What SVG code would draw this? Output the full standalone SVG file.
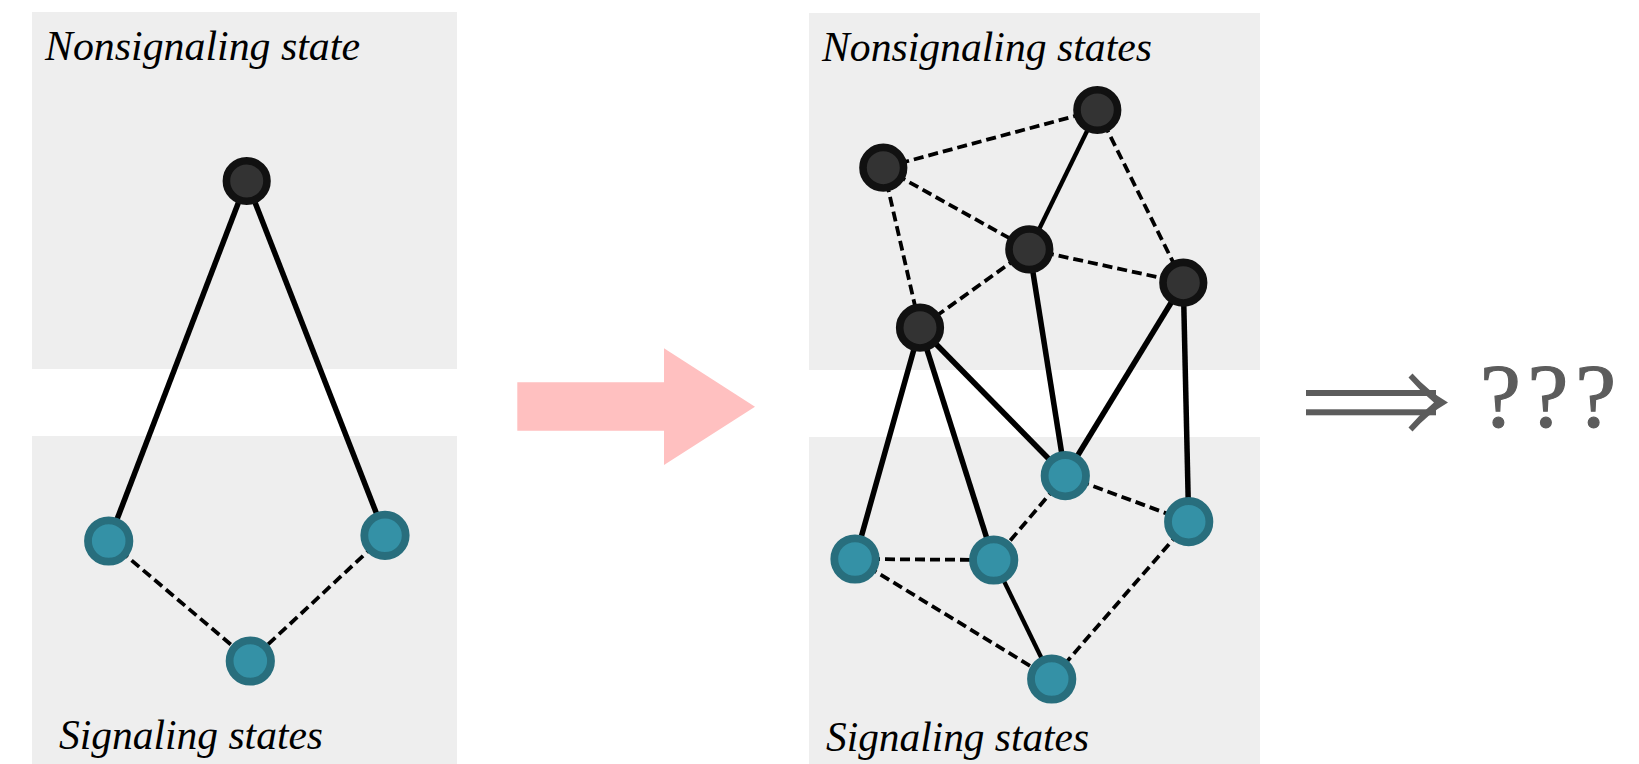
<svg xmlns="http://www.w3.org/2000/svg" width="1639" height="764" viewBox="0 0 1639 764">
<style>
.panel{fill:#eeeeee}
.lbl{font-family:"Liberation Serif",serif;font-style:italic;font-size:42px;fill:#000}
.solid{stroke:#000;stroke-width:5.5;fill:none}
.thin{stroke:#000;stroke-width:4.3;fill:none}
.dash{stroke:#000;stroke-width:3.8;stroke-dasharray:10 5;fill:none}
.ns{fill:#333333;stroke:#111111;stroke-width:7.6}
.sg{fill:#3491a6;stroke:#286e7d;stroke-width:7.8}
.gray{fill:#5c5c5c}
</style>
<rect width="1639" height="764" fill="#ffffff"/>
<g id="panels">
<rect class="panel" x="32" y="12" width="425" height="357"/>
<rect class="panel" x="32" y="436" width="425" height="328"/>
<rect class="panel" x="809" y="13" width="451" height="357"/>
<rect class="panel" x="809" y="437" width="451" height="327"/>
</g>
<g id="labels">
<text class="lbl" x="45" y="60" textLength="315" lengthAdjust="spacingAndGlyphs">Nonsignaling state</text>
<text class="lbl" x="59" y="749" textLength="264" lengthAdjust="spacingAndGlyphs">Signaling states</text>
<text class="lbl" x="822" y="61" textLength="330" lengthAdjust="spacingAndGlyphs">Nonsignaling states</text>
<text class="lbl" x="826" y="751" textLength="263" lengthAdjust="spacingAndGlyphs">Signaling states</text>
</g>
<g id="connectors">
<line class="solid" x1="246.7" y1="181" x2="108.7" y2="541"/>
<line class="solid" x1="246.7" y1="181" x2="385" y2="535.3"/>
<line class="dash" x1="108.7" y1="541" x2="250.3" y2="661"/>
<line class="dash" x1="385" y1="535.3" x2="250.3" y2="661"/>
<line class="dash" x1="1097.3" y1="110" x2="883.3" y2="167.7"/>
<line class="dash" x1="883.3" y1="167.7" x2="1029.3" y2="249.3"/>
<line class="dash" x1="883.3" y1="167.7" x2="920" y2="327.7"/>
<line class="dash" x1="1097.3" y1="110" x2="1183.3" y2="282.7"/>
<line class="dash" x1="1029.3" y1="249.3" x2="1183.3" y2="282.7"/>
<line class="dash" x1="1029.3" y1="249.3" x2="920" y2="327.7"/>
<line class="thin" x1="1097.3" y1="110" x2="1029.3" y2="249.3"/>
<line class="solid" x1="1029.3" y1="249.3" x2="1065.3" y2="475.7"/>
<line class="solid" x1="1183.3" y1="282.7" x2="1065.3" y2="475.7"/>
<line class="solid" x1="1183.3" y1="282.7" x2="1188.7" y2="521.7"/>
<line class="solid" x1="920" y1="327.7" x2="855" y2="559"/>
<line class="solid" x1="920" y1="327.7" x2="993.7" y2="560"/>
<line class="solid" x1="920" y1="327.7" x2="1065.3" y2="475.7"/>
<line class="dash" x1="1065.3" y1="475.7" x2="1188.7" y2="521.7"/>
<line class="dash" x1="1065.3" y1="475.7" x2="993.7" y2="560"/>
<line class="dash" x1="855" y1="559" x2="993.7" y2="560"/>
<line class="dash" x1="855" y1="559" x2="1051.7" y2="679"/>
<line class="dash" x1="1188.7" y1="521.7" x2="1051.7" y2="679"/>
<line class="thin" x1="993.7" y1="560" x2="1051.7" y2="679"/>
</g>
<g id="n-left-top"><circle class="ns" cx="246.7" cy="181" r="20.3"/></g>
<g id="n-left-s1"><circle class="sg" cx="108.7" cy="541" r="20.7"/></g>
<g id="n-left-s2"><circle class="sg" cx="385" cy="535.3" r="20.7"/></g>
<g id="n-left-s3"><circle class="sg" cx="250.3" cy="661" r="20.7"/></g>
<g id="n-A"><circle class="ns" cx="1097.3" cy="110" r="20.3"/></g>
<g id="n-B"><circle class="ns" cx="883.3" cy="167.7" r="20.3"/></g>
<g id="n-C"><circle class="ns" cx="1029.3" cy="249.3" r="20.3"/></g>
<g id="n-D"><circle class="ns" cx="1183.3" cy="282.7" r="20.3"/></g>
<g id="n-E"><circle class="ns" cx="920" cy="327.7" r="20.3"/></g>
<g id="n-F"><circle class="sg" cx="1065.3" cy="475.7" r="20.7"/></g>
<g id="n-G"><circle class="sg" cx="1188.7" cy="521.7" r="20.7"/></g>
<g id="n-H"><circle class="sg" cx="855" cy="559" r="20.7"/></g>
<g id="n-I"><circle class="sg" cx="993.7" cy="560" r="20.7"/></g>
<g id="n-J"><circle class="sg" cx="1051.7" cy="679" r="20.7"/></g>
<g id="big-arrow">
<polygon points="517.3,382.3 664,382.3 664,348.3 755,406.7 664,465 664,430.7 517.3,430.7" fill="#ffc0c0"/>
</g>
<g id="implies-arrow">
<rect class="gray" x="1306" y="390" width="130" height="6"/>
<rect class="gray" x="1306" y="409.3" width="130" height="6"/>
<path class="gray" d="M1408.5,377.5 L1412.5,373.5 Q1428,391 1448,402.5 Q1428,414 1412.5,431.5 L1408.5,427.5 Q1420,414 1434,402.5 Q1420,391 1408.5,377.5 Z"/>
</g>
<g id="question">
<text x="1480" y="427" font-family="'Liberation Serif',serif" font-size="92" fill="#5c5c5c" stroke="#5c5c5c" stroke-width="1.2" textLength="136" lengthAdjust="spacing">???</text>
</g>
</svg>
